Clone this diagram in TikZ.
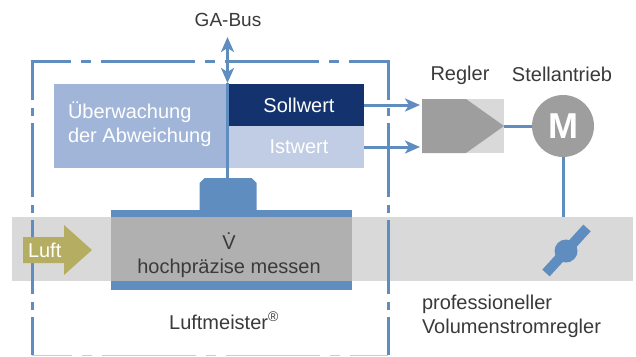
\documentclass[tikz,border=0pt]{standalone}
\usepackage{fontspec}
\setmainfont{Liberation Sans}
\usetikzlibrary{arrows.meta,calc}
\definecolor{lineblue}{HTML}{5F8DC0}
\definecolor{midblue}{HTML}{A1B5D8}
\definecolor{navy}{HTML}{14336E}
\definecolor{paleblue}{HTML}{C0CDE5}
\definecolor{bandgrey}{HTML}{D9D9D9}
\definecolor{pipegrey}{HTML}{B0B0B0}
\definecolor{darkgrey}{HTML}{9E9E9E}
\definecolor{olive}{HTML}{B5AE62}
\definecolor{txt}{HTML}{3A3A3A}
\tikzset{
  fill box/.style={rectangle,inner sep=0pt,outer sep=0pt,minimum width=#1},
  lbl/.style={inner sep=0pt,outer sep=0pt,text=txt,font=\fontsize{20}{24}\selectfont},
  wlbl/.style={lbl,text=white},
  frameh/.style={lineblue,line width=3pt,dash pattern=on 94pt off 10pt on 10pt off 10pt,dash phase=54pt},
  framev/.style={lineblue,line width=3pt,dash pattern=on 74pt off 8pt on 8pt off 7pt,dash phase=35pt},
  conn/.style={lineblue,line width=3pt},
  arrowconn/.style={conn,-{Stealth[length=15pt,width=13pt,inset=4pt]}},
}
\begin{document}
\begin{tikzpicture}[x=1pt,y=-1pt]
\useasboundingbox (0,0) rectangle (636,356);
% air duct band
\node[fill box=621pt,minimum height=64pt,fill=bandgrey,anchor=north west] (band) at (12,217) {};
% frame
\coordinate (fa) at (30.5,61);
\coordinate (fb) at (389.5,61);
\coordinate (fc) at (32,61);
\coordinate (fd) at (32,355);
\coordinate (fe) at (388,61);
\coordinate (ff) at (388,355);
\draw[frameh] (fa) -- (fb);
\draw[framev] (fc) -- (fd);
\draw[framev] (fe) -- (ff);
\draw[frameh,paleblue,line width=1pt] (32,355.5) -- (388,355.5);
% pipe
\node[fill box=241pt,minimum height=80pt,fill=lineblue,anchor=north west] (pipe) at (111,210) {};
\node[fill box=241pt,minimum height=64pt,fill=pipegrey,anchor=north west] (pipein) at (111,217) {};
% sensor
\node[fill box=57pt,minimum height=32pt,anchor=north west] (sensor) at (199.5,178) {};
\fill[lineblue] (199.5,210) -- (199.5,183) -- (204.5,178) -- (251.5,178) -- (256.5,183) -- (256.5,210) -- cycle;
% boxes
\node[fill box=175pt,minimum height=84pt,fill=midblue,anchor=north west] (watch) at (54,84) {};
\node[fill box=135pt,minimum height=42pt,fill=navy,anchor=north west] (soll) at (229,84) {};
\node[fill box=135pt,minimum height=42pt,fill=paleblue,anchor=north west] (ist) at (229,126) {};
\node[wlbl,anchor=west,align=left] (watchtxt) at (68,124) {Überwachung\\der Abweichung};
\node[wlbl] (solltxt) at (299,105) {Sollwert};
\node[wlbl] (isttxt) at (299,147) {Istwert};
% bus
\coordinate (bustop) at (227.5,37);
\coordinate (busin) at (227.5,83);
\draw[conn] (sensor.north -| bustop) -- (busin);
\draw[conn,{Stealth[length=15pt,width=13pt,inset=4pt]}-{Stealth[length=15pt,width=13pt,inset=4pt]}] (bustop) -- (busin);
\node[lbl,font=\fontsize{19}{24}\selectfont] (gabus) at (228,20) {GA-Bus};
% regler
\node[fill box=82pt,minimum height=54pt,fill=bandgrey,anchor=north west] (regler) at (422,99) {};
\fill[darkgrey] (regler.north west) -- (466,99) -- (regler.east) -- (466,153) -- (regler.south west) -- cycle;
\node[lbl] (reglertxt) at (460,75) {Regler};
% motor
\node[circle,fill=darkgrey,minimum size=62pt,inner sep=0pt,outer sep=0pt,text=white,font=\fontsize{36}{36}\selectfont\bfseries] (motor) at (563,126) {M};
\node[lbl] (motortxt) at (562,74) {Stellantrieb};
% connectors
\draw[arrowconn,shorten >=2pt] (soll.east) -- (soll.east -| regler.west);
\draw[arrowconn,shorten >=2pt] (ist.east) -- (ist.east -| regler.west);
\draw[conn] (regler.east) -- (motor.west);
\draw[conn] (motor.south) -- (motor.south |- band.north);
% damper
\draw[lineblue,line width=10pt] (546,273) -- (587,228);
\node[circle,fill=lineblue,minimum size=23pt,inner sep=0pt] (damper) at (566,251) {};
% air arrow
\fill[olive] (23,237) -- (64,237) -- (64,225) -- (92,250) -- (64,275) -- (64,263) -- (23,263) -- cycle;
\node[wlbl,anchor=west] (luft) at (28,250) {Luft};
% pipe labels
\node[lbl] (vdot) at (229,241) {\.{V}};
\node[lbl] (mess) at (229,268) {hochpräzise messen};
\node[lbl] (lm) at (224,320.5) {Luftmeister\textsuperscript{®}};
\node[lbl,anchor=north west,align=left] (prof) at (422,295) {professioneller\\Volumenstromregler};
\end{tikzpicture}
\end{document}
